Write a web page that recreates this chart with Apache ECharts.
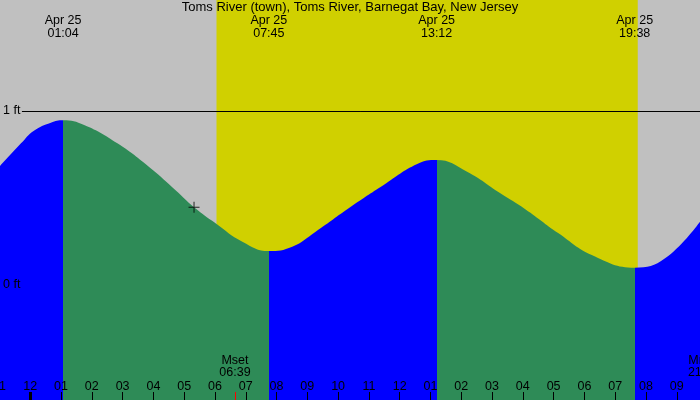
<!DOCTYPE html>
<html><head><meta charset="utf-8">
<script src="https://cdn.jsdelivr.net/npm/echarts@6/dist/echarts.min.js"></script>
<style>html,body{margin:0;padding:0;background:#c0c0c0}#c{width:700px;height:400px}</style>
</head><body><div id="c"></div>
<script>
const titleText = 'Toms River (town), Toms River, Barnegat Bay, New Jersey';
// tide curve: hours since midnight Apr 25, height in ft
const tideHours = [-1.0, -0.30, 0.12, 0.67, 1.067, 1.75, 2.83, 3.91, 4.73, 5.32, 6.02, 6.89, 7.75, 8.51, 9.27, 10.40, 11.48, 12.57, 13.2, 14.19, 15.27, 16.08, 17.16, 18.24, 19.633, 20.62, 21.8];
const tideFeet  = [0.680, 0.814, 0.887, 0.933, 0.947, 0.920, 0.814, 0.671, 0.543, 0.447, 0.355, 0.249, 0.195, 0.220, 0.306, 0.448, 0.575, 0.695, 0.718, 0.651, 0.527, 0.436, 0.297, 0.172, 0.099, 0.153, 0.375];
const eventHours = [1.067, 7.75, 13.2, 19.633];
const eventDates = ['Apr 25', 'Apr 25', 'Apr 25', 'Apr 25'];
const eventTimes = ['01:04', '07:45', '13:12', '19:38'];
const eventTypes = ['high', 'low', 'high', 'low'];
const daylight = [6.05, 19.733];
const hourTicks = [-1,0,1,2,3,4,5,6,7,8,9,10,11,12,13,14,15,16,17,18,19,20,21];
const midnightTicks = [0];
const moonHours = [6.65, 21.87];
const moonLabels = ['Mset\n06:39', 'Mrise\n21:52'];
const nowPoint = [5.32, 0.447];
const yTicks = [0, 1];
const refLineStart = -0.27;
const X_MIN = -0.95, X_MAX = 21.755, Y_MIN = -0.661, Y_MAX = 1.638;

const BLUE = '#0000ff', GREEN = '#2e8b57', GRAY = '#c0c0c0', YELLOW = '#d0d000';
const FONT = 'Liberation Sans';

const pieces = [];
let prev = null;
eventHours.forEach((h, i) => {
  const color = eventTypes[i] === 'high' ? BLUE : GREEN;
  const p = { lt: h, color };
  if (prev !== null) p.gte = prev;
  pieces.push(p);
  prev = h;
});
pieces.push({ gte: prev, color: eventTypes[eventTypes.length - 1] === 'high' ? GREEN : BLUE });

const curve = tideHours.map((h, i) => [h, tideFeet[i]]);
const pad2 = n => (n < 10 ? '0' : '') + n;
const hourFmt = v => { let m = ((Math.round(v) % 12) + 12) % 12; return pad2(m === 0 ? 12 : m); };
const nearest = (arr, v) => { let k = 0, d = 1e9; arr.forEach((h, i) => { if (Math.abs(h - v) < d) { d = Math.abs(h - v); k = i; } }); return k; };
const eventFmt = v => { const k = nearest(eventHours, v); return eventDates[k] + '\n' + eventTimes[k]; };
const moonFmt = v => moonLabels[nearest(moonHours, v)];

const baseX = { type: 'value', min: X_MIN, max: X_MAX, z: 10, splitLine: { show: false }, axisLine: { show: false, onZero: false } };
const labelFont = { color: '#000', fontFamily: FONT, fontSize: 12.5 };

const chart = echarts.init(document.getElementById('c'));
chart.setOption({
  backgroundColor: GRAY,
  animation: false,
  title: { text: titleText, left: 'center', top: 1, padding: 0, z: 20, textStyle: { fontFamily: FONT, fontSize: 13, fontWeight: 'normal', color: '#000', lineHeight: 13 } },
  grid: { left: 0, right: 0, top: 0, bottom: 0, containLabel: false },
  visualMap: { show: false, type: 'piecewise', dimension: 0, seriesIndex: 1, pieces },
  xAxis: [
    Object.assign({}, baseX, { position: 'bottom',
      axisTick: { show: true, inside: true, length: 8, customValues: hourTicks, lineStyle: { color: '#000', width: 1 } },
      axisLabel: Object.assign({ show: true, inside: true, margin: 7, customValues: hourTicks, formatter: hourFmt, lineHeight: 12 }, labelFont) }),
    Object.assign({}, baseX, { position: 'top',
      axisTick: { show: false },
      axisLabel: Object.assign({ show: true, inside: true, margin: 14, customValues: eventHours, formatter: eventFmt, lineHeight: 13 }, labelFont) }),
    Object.assign({}, baseX, { position: 'bottom',
      axisTick: { show: true, inside: true, length: 8, customValues: midnightTicks, lineStyle: { color: '#000', width: 3 } },
      axisLabel: { show: false } }),
    Object.assign({}, baseX, { position: 'bottom',
      axisTick: { show: true, inside: true, length: 8, customValues: moonHours, lineStyle: { color: '#ff0000', width: 1 } },
      axisLabel: Object.assign({ show: true, inside: true, margin: 21, customValues: moonHours, formatter: moonFmt, lineHeight: 12 }, labelFont) })
  ],
  yAxis: { type: 'value', min: Y_MIN, max: Y_MAX, z: 10, splitLine: { show: false }, axisLine: { show: false, onZero: false }, axisTick: { show: false },
    axisLabel: Object.assign({ show: true, inside: true, margin: 2, padding: [2, 0, 0, 0], customValues: yTicks, formatter: '{value} ft' }, labelFont) },
  series: [
    { type: 'line', data: [], z: 1, silent: true,
      markArea: { silent: true, itemStyle: { color: YELLOW, opacity: 1 }, data: [[{ xAxis: daylight[0] }, { xAxis: daylight[1] }]] } },
    { type: 'line', data: curve, z: 3, smooth: 0.45, symbol: 'none', silent: true,
      lineStyle: { width: 0 }, areaStyle: { opacity: 1, origin: 'start' },
      markLine: { silent: true, symbol: 'none', label: { show: false }, lineStyle: { color: '#000', width: 1, type: 'solid' },
        data: [[{ coord: [refLineStart, yTicks[1]] }, { coord: [X_MAX, yTicks[1]] }]] } },
    { type: 'scatter', data: [nowPoint], z: 5, silent: true, symbol: 'path://M0,5h11v1h-11zM5,0h1v11h-1z', symbolSize: 11, itemStyle: { color: '#000' } }
  ]
});

// labels whose anchor lies just outside the visible x range (partially visible at the edges)
const edgeTexts = [];
hourTicks.filter(h => h < X_MIN || h > X_MAX).forEach(h => {
  const x = chart.convertToPixel({ xAxisIndex: 0 }, h);
  edgeTexts.push({ type: 'text', z: 20, style: { x, y: 393, text: hourFmt(h), align: 'center', verticalAlign: 'bottom', lineHeight: 12, fill: '#000', font: '12.5px "' + FONT + '"' } });
});
moonHours.filter(h => h < X_MIN || h > X_MAX).forEach(h => {
  const x = chart.convertToPixel({ xAxisIndex: 0 }, h);
  edgeTexts.push({ type: 'text', z: 20, style: { x, y: 379, text: moonFmt(h), align: 'center', verticalAlign: 'bottom', lineHeight: 12, fill: '#000', font: '12.5px "' + FONT + '"' } });
});
chart.setOption({ graphic: edgeTexts });
</script></body></html>
